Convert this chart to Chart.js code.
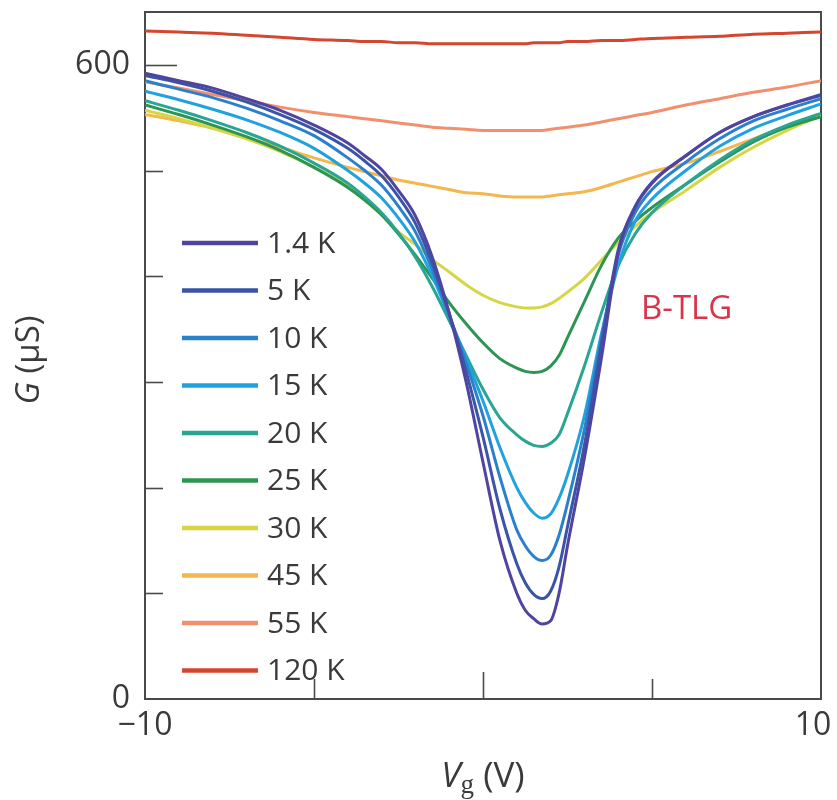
<!DOCTYPE html>
<html>
<head>
<meta charset="utf-8">
<script src="https://cdn.jsdelivr.net/npm/chart.js@4"></script>
<style>
  html, body { margin: 0; padding: 0; background: #ffffff; }
  #wrap { width: 837px; height: 800px; }
</style>
</head>
<body>
<div id="wrap"><canvas id="c" width="837" height="800"></canvas></div>
<script>
// ---- data ----
const vg = [-10,-9,-8,-7,-6,-5,-4,-3.5,-3,-2.5,-2,-1.5,-1,-0.5,0,0.5,1,1.25,1.5,1.75,2,2.25,2.5,3,3.5,4,4.5,5,6,7,8,9,10];

const seriesLabels = ['1.4 K','5 K','10 K','15 K','20 K','25 K','30 K','45 K','55 K','120 K'];
const seriesColors = ['#4f44a0','#3a55a8','#2b80cd','#20a2df','#28a593','#2b9552','#d6d645','#f5b64e','#f0906e','#d5462f'];

const g1_4K = [592,585,578,568,557,543,526,514,501,481,457,418,365,300,224,150,100,84,76,71,74,100,145,228,322,422,465,488,514,536,551,562,571];
const g5K   = [590,583,575,565,553,539,521,509,495,475,450,412,365,310,248,180,128,110,99,95,102,125,163,240,335,425,466,489,514,536,551,562,572];
const g10K  = [585,577,569,559,547,533,512,500,486,466,442,406,363,318,268,210,160,145,135,131,136,155,185,255,340,420,460,482,508,530,547,558,568];
const g15K  = [575,567,558,548,536,521,500,488,474,455,432,400,362,322,282,238,200,186,176,171,175,190,212,268,345,410,452,473,500,523,540,552,563];
const g20K  = [566,557,547,536,523,507,488,475,460,441,418,390,358,325,293,266,250,244,240,239,242,250,270,315,365,410,440,460,487,510,529,543,554];
const g25K  = [562,553,543,532,519,503,484,472,458,440,420,398,375,355,337,322,313,310,309,310,315,325,342,376,410,436,452,465,487,508,527,541,551];
const g30K  = [557,549,540,530,518,503,485,472,458,442,430,416,404,392,382,375,371,370,370,371,374,379,385,398,415,432,447,460,481,503,522,538,552];
const g45K  = [553,547,540,531,522,512,503,499,495,491,488,485,482,479,478,476,475,475,475,475,476,477,478,480,484,489,494,499,507,518,530,541,553];
const g55K  = [584,578,572,566,560,555,551,549,547,545,543,541,540,539,538,538,538,538,538,538,539,540,541,543,546,549,552,555,562,568,574,579,585];
const g120K = [632,631,630,628,626,624,623,622,622,621,621,620,620,620,620,620,620,620,621,621,621,621,622,622,623,623,624,625,626,627,629,630,631];

const seriesValues = [g1_4K,g5K,g10K,g15K,g20K,g25K,g30K,g45K,g55K,g120K];

// the en space keeps the right-hand label inside the canvas, as in the figure
const xTickLabels = { '-10': '\u221210', '10': '10\u2002' };
const yTickLabels = { '0': '0', '600': '600' };

// ---- styling ----
const FONT = '"Open Sans", "Noto Sans", sans-serif';
const TEXT = '#3a3a3a';
const AXIS = '#4a4a4a';

const datasets = seriesValues.map((vals, i) => ({
  label: seriesLabels[i],
  data: vg.map((x, j) => ({ x: x, y: vals[j] })),
  borderColor: seriesColors[i],
  backgroundColor: seriesColors[i],
  borderWidth: 3,
  pointRadius: 0,
  fill: false,
  cubicInterpolationMode: 'monotone'
}));

function zeroPad(s) { s.paddingTop = 0; s.paddingBottom = 0; s.paddingLeft = 0; s.paddingRight = 0; }

const decorPlugin = {
  id: 'decor',
  beforeDatasetsDraw(chart) {
    const ctx = chart.ctx, a = chart.chartArea;
    ctx.save();
    ctx.strokeStyle = AXIS;
    ctx.lineWidth = 2;
    ctx.strokeRect(a.left, a.top, a.right - a.left, a.bottom - a.top);
    // inward ticks
    const xs = chart.scales.x, ys = chart.scales.y;
    ctx.lineWidth = 1.6;
    xs.ticks.forEach(t => {
      if (t.value <= -10 || t.value >= 10) return;
      const px = Math.round(xs.getPixelForValue(t.value)) + 0.5;
      const len = t.value === 0 ? 27 : 20;
      ctx.beginPath(); ctx.moveTo(px, a.bottom); ctx.lineTo(px, a.bottom - len); ctx.stroke();
    });
    ys.ticks.forEach(t => {
      if (t.value <= 0 || t.value > 600 || t.value % 100 !== 0) return;
      const py = Math.round(ys.getPixelForValue(t.value)) + 0.5;
      const len = t.value === 600 ? 32 : 18;
      ctx.beginPath(); ctx.moveTo(a.left, py); ctx.lineTo(a.left + len, py); ctx.stroke();
    });
    ctx.restore();
  },
  afterDraw(chart) {
    const ctx = chart.ctx, a = chart.chartArea;
    ctx.save();
    // legend
    const lx0 = a.left + 37, lx1 = a.left + 113, tx = a.left + 122;
    ctx.textBaseline = 'middle';
    ctx.textAlign = 'left';
    ctx.font = '30px ' + FONT;
    chart.data.datasets.forEach((ds, i) => {
      const y = 243 + i * 47.5;
      ctx.strokeStyle = ds.borderColor;
      ctx.lineWidth = 4.5;
      ctx.beginPath(); ctx.moveTo(lx0, y); ctx.lineTo(lx1, y); ctx.stroke();
      ctx.fillStyle = TEXT;
      ctx.fillText(ds.label, tx, y + 1);
    });
    // sample label
    ctx.fillStyle = '#d8344c';
    ctx.font = '33px ' + FONT;
    ctx.fillText('B-TLG', 641, 310);

    // y axis title: G (μS)
    ctx.fillStyle = TEXT;
    ctx.translate(30, 360);
    ctx.rotate(-Math.PI / 2);
    ctx.textBaseline = 'middle';
    const f1 = 'italic 33px ' + FONT, f2 = '33px ' + FONT;
    ctx.font = f1; const wG = ctx.measureText('G').width;
    ctx.font = f2; const wR = ctx.measureText(' (\u00b5S)').width;
    let sx = -(wG + wR) / 2;
    ctx.font = f1; ctx.fillText('G', sx, 0);
    ctx.font = f2; ctx.fillText(' (\u00b5S)', sx + wG, 0);
    ctx.setTransform(1, 0, 0, 1, 0, 0);

    // x axis title: V_g (V)
    const cx = chart.scales.x.getPixelForValue(0);
    const by = 787;
    ctx.textBaseline = 'alphabetic';
    const fV = 'italic 35px ' + FONT, fg = '27px "Liberation Serif", "DejaVu Serif", serif', fR = '35px ' + FONT;
    ctx.font = fV; const wV = ctx.measureText('V').width;
    ctx.font = fg; const wg = ctx.measureText('g').width;
    ctx.font = fR; const wP = ctx.measureText(' (V)').width;
    let x0 = cx - (wV + wg + wP) / 2;
    ctx.font = fV; ctx.fillText('V', x0, by);
    ctx.font = fg; ctx.fillText('g', x0 + wV, by + 6);
    ctx.font = fR; ctx.fillText(' (V)', x0 + wV + wg, by);
    ctx.restore();
  }
};

new Chart(document.getElementById('c'), {
  type: 'line',
  data: { datasets: datasets },
  options: {
    responsive: false,
    devicePixelRatio: 1,
    animation: false,
    layout: { autoPadding: false, padding: { top: 12, right: 16, left: 0, bottom: 0 } },
    plugins: { legend: { display: false }, tooltip: { enabled: false } },
    scales: {
      x: {
        type: 'linear', min: -10, max: 10,
        grid: { display: false, drawTicks: false },
        border: { display: false },
        ticks: {
          stepSize: 5, autoSkip: false, maxRotation: 0, padding: 8,
          color: TEXT, font: { family: FONT, size: 32 },
          callback: v => xTickLabels[String(v)] || ''
        },
        afterFit: s => { s.height = 101; zeroPad(s); }
      },
      y: {
        type: 'linear', min: 0, max: 650,
        grid: { display: false, drawTicks: false },
        border: { display: false },
        ticks: {
          stepSize: 100, autoSkip: false, padding: 15,
          color: TEXT, font: { family: FONT, size: 32 },
          callback: v => yTickLabels[String(v)] || ''
        },
        afterFit: s => { s.width = 145; zeroPad(s); }
      }
    }
  },
  plugins: [decorPlugin]
});
</script>
</body>
</html>
